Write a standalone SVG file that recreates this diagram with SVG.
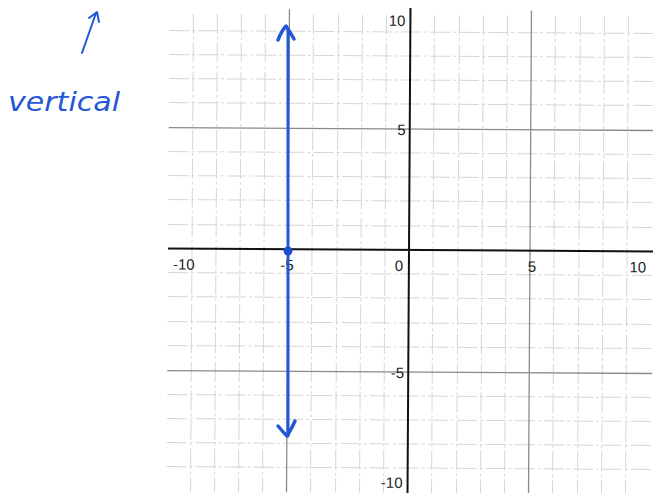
<svg xmlns="http://www.w3.org/2000/svg" width="653" height="493" viewBox="0 0 653 493">
<style>
.minor{stroke:#d6d6d6;stroke-width:1;stroke-dasharray:20 3 3 3;fill:none}
.major{stroke:#8a8a8a;stroke-width:1.3;fill:none}
.axis{stroke:#111;stroke-width:2;fill:none}
.lbl{font-family:"Liberation Sans",Arial,sans-serif;font-size:15px;fill:#222}
.ink{stroke:#2457d6;fill:none;stroke-linecap:round;stroke-linejoin:round}
</style>
<rect width="653" height="493" fill="#fff"/>
<g id="grid" transform="rotate(0.35 409 250)">
<g id="minor-h">
<path class="minor" d="M168 32H653M168 56H653M168 80H653M168 104H653M168 153H653M168 177H653M168 201H653M168 226H653M168 274H653M168 298H653M168 323H653M168 347H653M168 396H653M168 420H653M168 444H653M168 468H653"/>
</g>
<g id="minor-v">
<path class="minor" d="M192 15V493M216 15V493M240 15V493M264 15V493M312 15V493M337 15V493M361 15V493M385 15V493M433 15V493M458 15V493M482 15V493M506 15V493M554 15V493M579 15V493M603 15V493M627 15V493"/>
</g>
<g id="major">
<path class="major" d="M168 129H653M168 372H653M288 10V493M530 10V493"/>
</g>
<g id="axes">
<path class="axis" d="M168 250H653M409 8V493"/>
</g>
<g id="labels">
<text class="lbl" x="404" y="26" text-anchor="end">10</text>
<text class="lbl" x="405" y="135" text-anchor="end">5</text>
<text class="lbl" x="405" y="378" text-anchor="end">-5</text>
<text class="lbl" x="404" y="488" text-anchor="end">-10</text>
<text class="lbl" x="184" y="271" text-anchor="middle">-10</text>
<text class="lbl" x="287" y="271" text-anchor="middle">-5</text>
<text class="lbl" x="399" y="271" text-anchor="middle">0</text>
<text class="lbl" x="532" y="271" text-anchor="middle">5</text>
<text class="lbl" x="638" y="271" text-anchor="middle">10</text>
</g>
</g>
<g id="connectors">
<path id="vline" class="ink" stroke="#3d74e0" stroke-width="3" d="M288 30V436"/>
<path id="top-head" class="ink" stroke="#1e4fd6" stroke-width="3.5" d="M278 40Q282 30 286 26Q290 32 294 39"/>
<path id="bottom-head" class="ink" stroke="#1e4fd6" stroke-width="3.5" d="M278 426Q283 432 287 436Q292 428 295 421"/>
<path id="note-arrow" class="ink" stroke="#4a78e0" stroke-width="2" d="M82 53L96 13M89 18L97 12L99 22"/>
</g>
<g id="point">
<circle cx="288" cy="251" r="4.5" fill="#1e4fd6"/>
</g>
<g id="note">
<text x="8" y="111" font-family="'DejaVu Sans',sans-serif" font-style="italic" font-size="27" fill="#2457d6" textLength="112" lengthAdjust="spacingAndGlyphs">vertical</text>
</g>
</svg>
